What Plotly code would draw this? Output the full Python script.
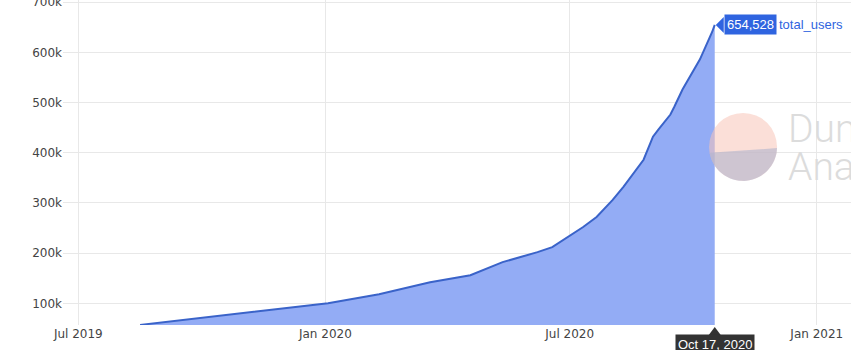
import numpy as np
import plotly.graph_objects as go

# cumulative user count over time
dates = [
    "2019-08-16", "2020-01-03", "2020-02-10", "2020-03-19", "2020-04-18",
    "2020-05-12", "2020-06-07", "2020-06-18", "2020-07-11", "2020-07-21",
    "2020-08-02", "2020-08-10", "2020-08-25", "2020-09-01", "2020-09-05",
    "2020-09-14", "2020-09-17", "2020-09-23", "2020-10-06", "2020-10-12",
    "2020-10-15", "2020-10-17",
]
total_users = [
    57000, 100000, 118000, 142000, 156000,
    182000, 202000, 212000, 252000, 272000,
    306000, 332000, 386000, 432000, 446000,
    476000, 492000, 526000, 586000, 620000,
    640000, 654528,
]
series_name = "total_users"
y_ticks = [100000, 200000, 300000, 400000, 500000, 600000, 700000]

LINE = "#3a63c9"
FILL = "#93acf5"
LABEL_BLUE = "#2f64e0"

fig = go.Figure()
fig.add_trace(go.Scatter(
    x=dates, y=total_users, name=series_name, mode="lines",
    line=dict(color=LINE, width=2, shape="linear"),
    fill="tozeroy", fillcolor=FILL, hoverinfo="skip",
))

last_x, last_y = dates[-1], total_users[-1]

# watermark logo: two-tone circle
cx, cy, r = 0.863, 0.548, 34
angles_low = np.linspace(np.deg2rad(190), np.deg2rad(358), 40)
pts = [(r * np.cos(a), r * np.sin(a)) for a in angles_low]
lower_path = "M" + " L".join(f"{px:.2f},{py:.2f}" for px, py in pts) + " Z"

shapes = [
    dict(type="circle", xref="paper", yref="paper", xsizemode="pixel",
         ysizemode="pixel", xanchor=cx, yanchor=cy, x0=-r, x1=r, y0=-r, y1=r,
         fillcolor="rgba(247,196,184,0.55)", line=dict(width=0), layer="above"),
    dict(type="path", xref="paper", yref="paper", xsizemode="pixel",
         ysizemode="pixel", xanchor=cx, yanchor=cy, path=lower_path,
         fillcolor="rgba(177,180,205,0.6)", line=dict(width=0), layer="above"),
    # notch of the value label
    dict(type="path", xref="x", yref="y", xsizemode="pixel", ysizemode="pixel",
         xanchor=last_x, yanchor=last_y, path="M1,0 L9,-8 L9,8 Z",
         fillcolor=LABEL_BLUE, line=dict(width=0), layer="above"),
    # notch of the date label
    dict(type="path", xref="x", yref="paper", xsizemode="pixel", ysizemode="pixel",
         xanchor=last_x, yanchor=0, path="M0,-2 L-6,-10 L6,-10 Z",
         fillcolor="#333333", line=dict(width=0), layer="above"),
]

annotations = [
    dict(x=last_x, y=last_y, xref="x", yref="y", text=f"{last_y:,}",
         showarrow=False, xanchor="left", yanchor="middle", xshift=9,
         bgcolor=LABEL_BLUE, borderpad=2,
         font=dict(family="Liberation Sans, Arial", size=13, color="white")),
    dict(x=last_x, y=last_y, xref="x", yref="y", text=series_name,
         showarrow=False, xanchor="left", yanchor="middle", xshift=62,
         font=dict(family="Liberation Sans, Arial", size=13, color=LABEL_BLUE)),
    dict(x=last_x, y=0, xref="x", yref="paper", text="Oct 17, 2020",
         showarrow=False, xanchor="center", yanchor="top", yshift=-9,
         bgcolor="#333333", borderpad=2,
         font=dict(family="Liberation Sans, Arial", size=13, color="white")),
    dict(x=0.917, y=0.605, xref="paper", yref="paper", text="Dune",
         showarrow=False, xanchor="left", yanchor="middle", height=37,
         font=dict(family="Roboto", size=39, color="#dcdcdc", weight=300)),
    dict(x=0.917, y=0.487, xref="paper", yref="paper", text="Analytics",
         showarrow=False, xanchor="left", yanchor="middle", height=37,
         font=dict(family="Roboto", size=39, color="#dcdcdc", weight=300)),
]

fig.update_layout(
    width=851, height=350,
    margin=dict(l=63, r=0, t=0, b=25, pad=0),
    paper_bgcolor="white", plot_bgcolor="white",
    showlegend=False,
    font=dict(family="DejaVu Sans", size=12, color="#444444"),
    xaxis=dict(
        type="date", range=["2019-06-19 14:00", "2021-01-26 12:00"],
        dtick="M6", tick0="2019-07-01", tickformat="%b %Y",
        showgrid=True, gridcolor="#e8e8e8", zeroline=False, showline=False,
        ticks="", fixedrange=True, automargin=False,
    ),
    yaxis=dict(
        range=[56800, 704200], tickvals=y_ticks, tickformat="~s",
        showgrid=True, gridcolor="#e8e8e8", zeroline=False, showline=False,
        ticks="", fixedrange=True, ticklabeloverflow="allow",
        automargin=False,
    ),
    shapes=shapes,
    annotations=annotations,
)

fig.write_html("out.html")
